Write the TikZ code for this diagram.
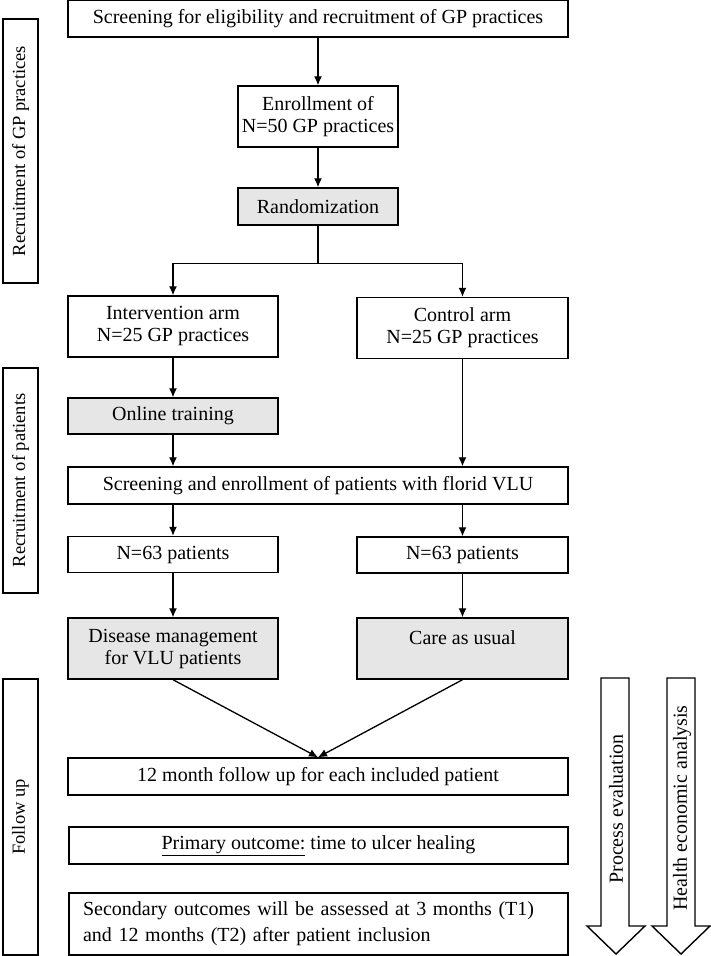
\documentclass[tikz,border=0pt]{standalone}
\usepackage{fontspec}
\setmainfont{Liberation Serif}
\usepackage{tikz}
\usetikzlibrary{arrows.meta, positioning, calc}
\definecolor{boxgray}{HTML}{E6E6E6}
\tikzset{
  >=Latex,
  font=\fontsize{20}{22}\selectfont,
  box/.style={
    draw=black, fill=#1, line width=1.4pt, align=center, inner sep=2pt
  },
  box/.default=white,
  side/.style={
    draw=black, line width=1.4pt, rotate=90, minimum height=35, inner sep=2pt,
    font=\fontsize{18.5}{22}\selectfont
  },
  arr/.style={-{Latex[length=9pt,width=8pt]}, line width=1.3pt},
  bigarrow/.style={draw=black, line width=1.4pt, fill=white}
}

\begin{document}
\begin{tikzpicture}[x=1pt,y=-1pt]
  \useasboundingbox (0,0) rectangle (711,956);
  % recruitment of practices
  \node[box,minimum width=500,minimum height=37] (screen) at (318,18.5)
    {Screening for eligibility and recruitment of GP practices};
  \node[box,minimum width=160,minimum height=61] (enrol) at (318,116.5)
    {Enrollment of\\N=50 GP practices};
  \node[box=boxgray,minimum width=160,minimum height=37] (rand) at (318,206.5)
    {Randomization};
  \node[box,minimum width=210,minimum height=61] (interv) at (173,326.5)
    {Intervention arm\\N=25 GP practices};
  \node[box,minimum width=211,minimum height=61] (control) at (462.5,328)
    {Control arm\\N=25 GP practices};
  % recruitment of patients
  \node[box=boxgray,minimum width=210,minimum height=36] (online) at (173,416)
    {Online training};
  \node[box,minimum width=500,minimum height=37] (scrpat) at (318,485.5)
    {Screening and enrollment of patients with florid VLU};
  \node[box,minimum width=210,minimum height=36] (patA) at (173,554.5)
    {N=63 patients};
  \node[box,minimum width=211,minimum height=36] (patB) at (462.5,555)
    {N=63 patients};
  \node[box=boxgray,minimum width=210,minimum height=61] (disease) at (173,648.5)
    {Disease management\\for VLU patients};
  \node[box=boxgray,minimum width=211,minimum height=61] (care) at (462.5,648.5)
    {Care as usual\\\mbox{}};
  % follow up
  \node[box,minimum width=500,minimum height=37] (follow) at (318,776.5)
    {12 month follow up for each included patient};
  \node[box,minimum width=499,minimum height=37] (primary) at (318.5,845.5)
    {\underline{Primary outcome:} time to ulcer healing};
  \node[box,minimum width=499,minimum height=62,align=left,text width=471,
    font=\fontsize{20}{26}\selectfont] (second) at (318.5,924)
    {Secondary outcomes will be assessed at 3 months (T1)\\and 12 months (T2) after patient inclusion};

  % phase labels
  \node[side,minimum width=264] (phaseA) at (20.5,151) {Recruitment of GP practices};
  \node[side,minimum width=225] (phaseB) at (20.5,480.5) {Recruitment of patients};
  \node[side,minimum width=276] (phaseC) at (20.5,817) {Follow up};

  % connectors
  \draw[arr] (screen) -- (enrol);
  \draw[arr] (enrol) -- (rand);
  \draw[line width=1.3pt] (rand.south) -- ++(0,38) coordinate (split);
  \draw[arr] (split) -| (interv.north);
  \draw[arr] (split) -| (control.north);
  \draw[arr] (interv) -- (online);
  \draw[arr] (online.south) -- (online.south |- scrpat.north);
  \draw[arr] (control.south) -- (control.south |- scrpat.north);
  \draw[arr] (patA.north |- scrpat.south) -- (patA.north);
  \draw[arr] (patB.north |- scrpat.south) -- (patB.north);
  \draw[arr] (patA) -- (disease);
  \draw[arr] (patB) -- (care);
  \draw[arr] (disease.south) -- (follow.north);
  \draw[arr] (care.south) -- (follow.north);

  % block arrows
  \draw[bigarrow] (601,678) -- (629,678) -- (629,926) -- (645,926) -- (616,954)
    -- (587,926) -- (601,926) -- cycle;
  \node[rotate=90,inner sep=0pt] (process) at (616,809) {Process evaluation};
  \draw[bigarrow] (667,678) -- (695,678) -- (695,926) -- (710,926) -- (681,954)
    -- (652,926) -- (667,926) -- cycle;
  \node[rotate=90,inner sep=0pt] (health) at (682,808) {Health economic analysis};
\end{tikzpicture}
\end{document}
